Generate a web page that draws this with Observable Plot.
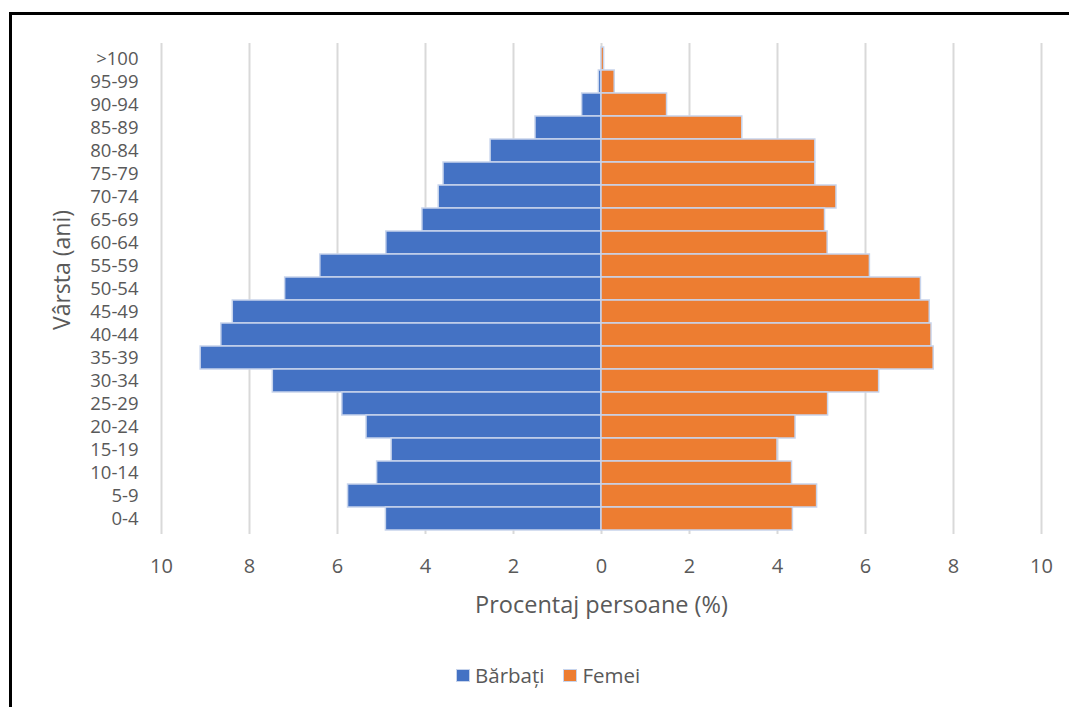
<!DOCTYPE html>
<html>
<head>
<meta charset="utf-8">
<script src="https://cdn.jsdelivr.net/npm/d3@7"></script>
<script src="https://cdn.jsdelivr.net/npm/@observablehq/plot@0.6"></script>
<style>
  html, body { margin: 0; padding: 0; background: #fff; }
  #wrap { position: relative; width: 1069px; height: 707px; overflow: hidden; font-family: "Open Sans", sans-serif; }
  #frame { position: absolute; left: 9px; top: 12px; width: 1100px; height: 720px; border-top: 3px solid #000; border-left: 3px solid #000; pointer-events: none; }
  #chart { position: absolute; left: 0; top: 0; }
  #legend { position: absolute; top: 661px; left: 457px; display: flex; align-items: center; font-size: 20.5px; color: #595959; line-height: 28px; }
  .sw { display: inline-block; width: 12px; height: 11px; margin-right: 6px; }
  .item { display: flex; align-items: center; margin-right: 20px; }
</style>
</head>
<body>
<div id="wrap">
  <div id="chart"></div>
  <div id="frame"></div>
  <div id="legend"></div>
</div>
<script>
const ages = [">100","95-99","90-94","85-89","80-84","75-79","70-74","65-69","60-64","55-59","50-54","45-49","40-44","35-39","30-34","25-29","20-24","15-19","10-14","5-9","0-4"];
const male = [0,0.06,0.44,1.5,2.52,3.59,3.7,4.07,4.89,6.39,7.19,8.38,8.64,9.11,7.47,5.89,5.34,4.77,5.1,5.76,4.9];
const female = [0.06,0.3,1.49,3.2,4.86,4.86,5.34,5.08,5.14,6.1,7.26,7.46,7.5,7.55,6.31,5.15,4.41,4.0,4.33,4.9,4.35];
const seriesNames = ["Bărbați", "Femei"];
const seriesColors = ["#4472C4", "#ED7D31"];
const xTicks = [-10,-8,-6,-4,-2,0,2,4,6,8,10];
const xTitle = "Procentaj persoane (%)";
const yTitle = "Vârsta (ani)";

const rows = [];
ages.forEach((a, i) => {
  rows.push({age: a, sex: seriesNames[0], value: -male[i]});
  rows.push({age: a, sex: seriesNames[1], value: female[i]});
});

const chart = Plot.plot({
  width: 1069,
  height: 620,
  marginLeft: 161,
  marginRight: 28,
  marginTop: 43,
  marginBottom: 86,
  style: {fontFamily: "'Open Sans', sans-serif", fontSize: "18px", color: "#595959", background: "transparent"},
  x: {domain: [-10, 10], label: null},
  y: {domain: ages, padding: 0, label: null},
  color: {domain: seriesNames, range: seriesColors},
  marks: [
    Plot.gridX(xTicks, {stroke: "#d9d9d9", strokeWidth: 2, strokeOpacity: 1}),
    Plot.barX(rows, {x: "value", y: "age", fill: "sex", stroke: "#c7d4ec", strokeWidth: 1.5}),
    Plot.axisX(xTicks, {tickFormat: d => Math.abs(d), tickSize: 0, tickPadding: 24, fontSize: 20, label: null, fill: "#595959"}),
    Plot.axisY({tickSize: 0, tickPadding: 23, fontSize: 18.5, label: null, fill: "#595959"}),
    Plot.text([xTitle], {frameAnchor: "bottom", lineAnchor: "middle", textAnchor: "middle", dy: 71, fontSize: 23.5, fill: "#595959"}),
    Plot.text([yTitle], {frameAnchor: "left", lineAnchor: "middle", textAnchor: "middle", dx: -99, dy: -19, rotate: -90, fontSize: 23, fill: "#595959"})
  ]
});
document.getElementById("chart").appendChild(chart);

const legend = document.getElementById("legend");
seriesNames.forEach((n, i) => {
  const it = document.createElement("div");
  it.className = "item";
  const sw = document.createElement("span");
  sw.className = "sw";
  sw.style.background = seriesColors[i];
  sw.style.outline = "1px solid #c7d4ec";
  it.appendChild(sw);
  const t = document.createElement("span");
  t.textContent = n;
  it.appendChild(t);
  legend.appendChild(it);
});
</script>
</body>
</html>
